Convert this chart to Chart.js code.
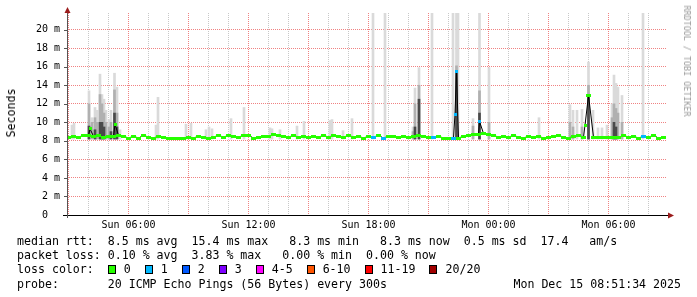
<!DOCTYPE html>
<html lang="en">
<head>
<meta charset="UTF-8">
<title>Smokeping latency</title>
<script src="https://cdn.jsdelivr.net/npm/chart.js"></script>
<style>
    * {
        margin: 0;
        padding: 0;
        box-sizing: border-box;
    }
    body {
        width: 697px;
        height: 297px;
        background: #fff;
        overflow: hidden;
        position: relative;
        font-family: 'DejaVu Sans Mono', monospace;
        color: #000;
    }
    #chart {
        position: absolute;
        left: 0;
        top: 0;
    }
    .unit {
        position: absolute;
        left: 11px;
        top: 113px;
        font-size: 11.6px;
        white-space: pre;
        transform: translate(-50%, -50%) rotate(-90deg);
    }
    .watermark {
        position: absolute;
        left: 687px;
        top: 61px;
        font-size: 8.4px;
        color: #999;
        white-space: pre;
        transform: translate(-50%, -50%) rotate(90deg);
    }
    #legend {
        position: absolute;
        left: 17px;
        top: 234px;
        font-size: 11.6px;
    }
    #legend .row {
        height: 14.2px;
        line-height: 14.2px;
        white-space: pre;
    }
    .box {
        display: inline-block;
        width: 8px;
        height: 9px;
        border: 1px solid #000;
        margin-right: 8px;
        vertical-align: -1px;
    }
    .lbl {
        margin-right: 14px;
    }
    #stamp {
        position: absolute;
        right: 16px;
        top: 276.6px;
        font-size: 11.6px;
        line-height: 14.2px;
        white-space: pre;
    }
</style>
</head>
<body>
    <canvas id="chart" width="697" height="297"></canvas>
    <div class="unit">Seconds</div>
    <div class="watermark">RRDTOOL / TOBI OETIKER</div>
    <div id="legend">
        <div class="row">median rtt:  8.5 ms avg  15.4 ms max   8.3 ms min   8.3 ms now  0.5 ms sd  17.4   am/s</div>
        <div class="row">packet loss: 0.10 % avg  3.83 % max   0.00 % min  0.00 % now</div>
        <div class="row" id="lossrow">loss color:  </div>
        <div class="row">probe:       20 ICMP Echo Pings (56 Bytes) every 300s</div>
    </div>
    <div id="stamp">Mon Dec 15 08:51:34 2025</div>

<script>
    // x values are hours after Sun 00:00, y values are milliseconds
    const lossColors = ['#26ff00', '#00b8ff', '#0059ff', '#7e00ff', '#ff00ff', '#ff5500', '#ff0000', '#a10000'];
    const lossLabels = ['0', '1', '2', '3', '4-5', '6-10', '11-19', '20/20'];

    // tick positions
    const hourTicks = [3, 4, 5, 6, 7, 8, 9, 10, 11, 12, 13, 14, 15, 16, 17, 18, 19, 20, 21, 22, 23, 24, 25, 26, 27, 28, 29, 30, 31, 32];
    const msTicks = [0, 1, 2, 3, 4, 5, 6, 7, 8, 9, 10, 11, 12, 13, 14, 15, 16, 17, 18, 19, 20, 21];

    // median rtt, one reading every 15 min starting Sun 03:00
    const medianStart = 3.0;
    const medianStep = 0.25;
    const medianRtt = [
        8.4, 8.5, 8.4, 8.6, 8.6, 8.5, 8.6, 8.4, 8.5, 8.5,
        8.6, 8.5, 8.3, 8.5, 8.3, 8.6, 8.4, 8.3, 8.5, 8.4,
        8.3, 8.25, 8.25, 8.3, 8.4, 8.3, 8.5, 8.4, 8.3, 8.4,
        8.6, 8.4, 8.6, 8.5, 8.4, 8.6, 8.6, 8.3, 8.4, 8.5,
        8.5, 8.7, 8.6, 8.5, 8.4, 8.6, 8.4, 8.5, 8.4, 8.5,
        8.4, 8.6, 8.4, 8.6, 8.5, 8.4, 8.6, 8.4, 8.5, 8.3,
        8.5, 8.4, 8.6, 8.3, 8.5, 8.5, 8.4, 8.5, 8.4, 8.5,
        8.6, 8.5, 8.4, 8.4, 8.5, 8.3, 8.3, 8.3, 8.3, 8.5,
        8.6, 8.7, 8.7, 8.8, 8.7, 8.6, 8.4, 8.5, 8.4, 8.6,
        8.4, 8.3, 8.5, 8.4, 8.5, 8.3, 8.4, 8.5, 8.6, 8.4,
        8.3, 8.5, 8.6, 8.4, 12.9, 8.4, 8.35, 8.35, 8.35, 8.35,
        8.35, 8.6, 8.4, 8.5, 8.3, 8.5, 8.4, 8.6, 8.3, 8.4
    ];
    // readings that lost pings
    const lossTimes = [18.25, 18.75, 21.25, 22.25, 31.75];
    const lossCounts = [1, 1, 1, 1, 1];

    // short 5-min median spikes
    const spikeTimes = [4.075, 5.325, 22.325, 22.4, 23.55, 28.825];
    const spikeRtt = [9.3, 9.8, 10.9, 15.5, 10.1, 9.7];
    const spikeLoss = [0, 0, 1, 1, 1, 0];

    // smoke: spread of the 20 pings (outer, middle, core)
    const smokeFloor = 8.2;
    const smokeTimes = [
        3.175, 3.275, 4.025, 4.175, 4.325, 4.425, 4.575, 4.675, 4.775, 4.875,
        5.025, 5.125, 5.3, 5.425, 5.575, 7.375, 7.475, 8.875, 9.125, 9.875,
        10.025, 10.175, 11.125, 11.775, 13.075, 13.175, 13.575, 14.425, 14.775, 16.075,
        16.175, 16.725, 17.175, 18.225, 18.825, 20.225, 20.325, 20.525, 21.175, 22.225,
        22.4, 22.475, 23.225, 23.55, 24.025, 26.525, 28.075, 28.225, 28.425, 28.675,
        29.0, 29.225, 29.475, 29.675, 29.925, 30.175, 30.275, 30.375, 30.475, 30.675,
        31.725
    ];
    const smokeHigh = [
        9.7, 9.9, 13.4, 10.5, 11.6, 11.3, 15.2, 13.0, 12.5, 11.3,
        10.3, 11.3, 15.3, 13.8, 9.2, 9.7, 12.7, 9.8, 9.9, 9.2,
        9.5, 9.3, 10.4, 11.6, 9.4, 9.3, 9.2, 9.6, 10.1, 10.2,
        10.3, 9.1, 10.4, 22, 22, 9.5, 13.7, 15.9, 22, 22,
        22, 22, 10.4, 22, 15.9, 10.5, 11.9, 11.3, 11.3, 11.4,
        16.5, 11.3, 9.4, 9.4, 9.7, 12.0, 15.1, 14.2, 13.8, 12.9,
        22
    ];
    const smokeMid = [
        null, null, 12.0, 10.0, 10.5, 10.0, 13.0, 12.0, 11.0, 10.0,
        9.5, 10.0, 13.5, 11.0, null, null, null, null, null, null,
        null, null, null, null, null, null, null, null, null, null,
        null, null, null, null, null, 9.0, 12.0, 14.0, null, null,
        16.1, null, 9.6, 13.4, 10.0, null, 10.0, 9.5, null, 9.5,
        14.0, null, null, null, null, 10.5, 12.0, 11.5, 11.0, 10.0,
        null
    ];
    const smokeCore = [
        null, null, 9.6, null, 9.2, null, 10.0, 10.0, 9.5, null,
        null, 9.0, 11.0, 9.5, null, null, null, null, null, null,
        null, null, null, null, null, null, null, null, null, null,
        null, null, null, null, null, null, 9.5, 12.5, null, null,
        15.5, null, null, 11.0, null, null, null, null, null, null,
        12.9, null, null, null, null, null, 10.0, 9.5, null, null,
        null
    ];

    const axisStart = 2.925;
    const axisEnd = 32.925;

    function lossIndex(n) {
        if (n <= 3) return n;
        if (n <= 5) return 4;
        if (n <= 10) return 5;
        if (n <= 19) return 6;
        return 7;
    }

    const medianPts = medianRtt.map((v, i) => {
        const t = medianStart + i * medianStep;
        const k = lossTimes.indexOf(t);
        return { x: t, y: v, loss: k >= 0 ? lossCounts[k] : 0 };
    });
    const spikePts = spikeTimes.map((t, i) => ({ x: t, y: spikeRtt[i], loss: spikeLoss[i] }));
    const allPts = medianPts.concat(spikePts).sort((a, b) => a.x - b.x);

    // small coloured tick that marks each median reading
    const markCache = {};
    function mark(color, w) {
        const key = color + w;
        if (!markCache[key]) {
            const c = document.createElement('canvas');
            c.width = w;
            c.height = 3;
            const g = c.getContext('2d');
            g.fillStyle = color;
            g.fillRect(0, 0, w, 3);
            markCache[key] = c;
        }
        return markCache[key];
    }
    const toMarks = (pts, w) => pts.map(p => mark(lossColors[lossIndex(p.loss)], w));

    function smokeLayer(tops) {
        const out = [];
        smokeTimes.forEach((t, i) => {
            if (tops[i] != null) out.push({ x: t, y: [smokeFloor, tops[i]] });
        });
        return out;
    }

    // loss color legend row
    const lossRow = document.getElementById('lossrow');
    lossLabels.forEach((l, i) => {
        const b = document.createElement('span');
        b.className = 'box';
        b.style.background = lossColors[i];
        const s = document.createElement('span');
        s.className = 'lbl';
        s.textContent = l;
        lossRow.appendChild(b);
        lossRow.appendChild(s);
    });

    const gridMajor = 'rgb(240, 130, 130)';
    const gridMinor = 'rgb(200, 200, 200)';
    const tickFont = { family: 'DejaVu Sans Mono', size: 10 };
    const xGridColors = hourTicks.map(h => (h % 3 === 0 ? gridMajor : gridMinor));
    const yGridColors = msTicks.map(v => (v % 2 === 0 ? gridMajor : gridMinor));

    function hourLabel(h) {
        const day = h < 24 ? 'Sun' : 'Mon';
        return day + ' ' + String(h % 24).padStart(2, '0') + ':00';
    }

    const hiddenX = () => ({ type: 'linear', axis: 'x', min: axisStart, max: axisEnd, display: false, offset: false, stacked: true });

    const smokeBase = { type: 'bar', borderWidth: 0, barThickness: 2, grouped: false };

    const axesPlugin = {
        id: 'axes',
        afterDraw(chart) {
            const { ctx, chartArea: a } = chart;
            const ys = chart.scales.y;
            ctx.save();
            ctx.lineWidth = 1;
            ctx.strokeStyle = '#000';
            ctx.beginPath();
            ctx.moveTo(a.left - 4, a.bottom + 0.5);
            ctx.lineTo(a.right + 2, a.bottom + 0.5);
            ctx.stroke();
            ctx.strokeStyle = '#555';
            ctx.beginPath();
            ctx.moveTo(a.left + 0.5, a.bottom + 3);
            ctx.lineTo(a.left + 0.5, a.top);
            for (let v = 2; v <= 20; v += 2) {
                const y = Math.round(ys.getPixelForValue(v)) + 0.5;
                ctx.moveTo(a.left - 3, y);
                ctx.lineTo(a.left, y);
            }
            ctx.stroke();
            // arrows
            ctx.fillStyle = '#9b1c1c';
            ctx.beginPath();
            ctx.moveTo(a.left - 2.5, a.top);
            ctx.lineTo(a.left + 3.5, a.top);
            ctx.lineTo(a.left + 0.5, a.top - 6);
            ctx.closePath();
            ctx.fill();
            ctx.beginPath();
            ctx.moveTo(a.right + 1, a.bottom - 2.5);
            ctx.lineTo(a.right + 1, a.bottom + 3.5);
            ctx.lineTo(a.right + 7, a.bottom + 0.5);
            ctx.closePath();
            ctx.fill();
            ctx.restore();
        }
    };

    new Chart(document.getElementById('chart'), {
        type: 'bar',
        data: {
            datasets: [
                { type: 'line', data: medianPts, showLine: false, pointStyle: toMarks(medianPts, 5),
                  pointRadius: 3, xAxisID: 'x', order: 0 },
                { type: 'line', data: spikePts, showLine: false, pointStyle: toMarks(spikePts, 3),
                  pointRadius: 3, xAxisID: 'x', order: 0 },
                { type: 'line', data: allPts, borderColor: '#000', borderWidth: 1,
                  pointRadius: 0, tension: 0, xAxisID: 'x', order: 1 },
                { ...smokeBase, data: smokeLayer(smokeCore), backgroundColor: '#4a4a4a', xAxisID: 'xs3', order: 2 },
                { ...smokeBase, data: smokeLayer(smokeMid), backgroundColor: '#b0b0b0', xAxisID: 'xs2', order: 3 },
                { ...smokeBase, data: smokeLayer(smokeHigh), backgroundColor: '#dadada', xAxisID: 'xs1', order: 4 }
            ]
        },
        options: {
            responsive: false,
            animation: false,
            devicePixelRatio: 1,
            layout: { padding: { left: 0, top: 13, right: 30, bottom: 0 } },
            plugins: {
                legend: { display: false },
                tooltip: { enabled: false }
            },
            scales: {
                x: {
                    type: 'linear',
                    min: axisStart,
                    max: axisEnd,
                    offset: false,
                    afterBuildTicks: s => { s.ticks = hourTicks.map(v => ({ value: v })); },
                    afterFit: s => { s.height = 82; },
                    ticks: {
                        autoSkip: false,
                        maxRotation: 0,
                        padding: 4,
                        color: '#000',
                        font: tickFont,
                        callback: v => (v % 6 === 0 ? hourLabel(v) : '')
                    },
                    grid: {
                        offset: false,
                        drawTicks: false,
                        lineWidth: 1,
                        color: xGridColors
                    },
                    border: { display: false, dash: [1, 1] }
                },
                xs1: hiddenX(),
                xs2: hiddenX(),
                xs3: hiddenX(),
                y: {
                    type: 'linear',
                    min: 0,
                    max: 21.8,
                    stacked: false,
                    afterBuildTicks: s => { s.ticks = msTicks.map(v => ({ value: v })); },
                    afterFit: s => { s.width = 67; },
                    ticks: {
                        padding: 7,
                        color: '#000',
                        font: tickFont,
                        callback: v => (v === 0 ? '0  ' : v % 2 === 0 ? v + ' m' : '')
                    },
                    grid: {
                        drawTicks: false,
                        lineWidth: 1,
                        color: yGridColors
                    },
                    border: { display: false, dash: [1, 1] }
                }
            }
        },
        plugins: [axesPlugin]
    });
</script>
</body>
</html>
